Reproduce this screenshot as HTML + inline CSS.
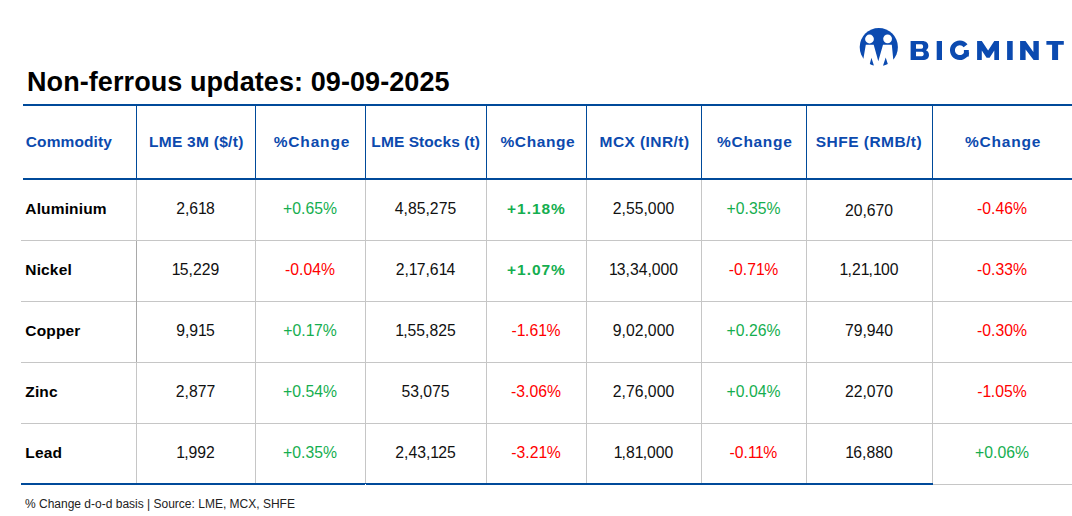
<!DOCTYPE html>
<html><head><meta charset="utf-8">
<style>
html,body{margin:0;padding:0;background:#fff;}
body{width:1072px;height:516px;position:relative;overflow:hidden;font-family:"Liberation Sans",sans-serif;}
.l{position:absolute;}
.bl{background:#004a9a;}
.gr{background:#c6c6c6;}
.t{position:absolute;white-space:nowrap;line-height:1;}
.cc{text-align:center;}
.title{left:27px;top:69.4px;font-size:27px;font-weight:bold;color:#000;letter-spacing:0.08px;}
.h{font-size:15.5px;font-weight:bold;color:#0c4aae;}
.c{font-size:15.5px;font-weight:bold;color:#000;left:25.3px;letter-spacing:0.15px;}
.n{font-size:15.75px;color:#111;}
.g{font-size:15.75px;color:#15ae4f;}
.r{font-size:15.75px;color:#ff0000;}
.o{letter-spacing:-0.85px;}
.p{letter-spacing:-0.5px;}
.b{font-weight:bold;font-size:15.5px;letter-spacing:0.95px;text-indent:0.95px;}
.foot{left:25px;top:497.6px;font-size:12px;color:#222;}
</style></head><body>
<div class="t title">Non-ferrous updates: 09-09-2025</div>

<svg class="l" style="left:0;top:0" width="1072" height="80">
  <circle cx="878.8" cy="47.1" r="19.1" fill="#0b4ab0"/>
  <path d="M865.8,44.8 L873.7,44.8 L878.3,61.3 L883,44.8 L891.8,44.8 L894.8,75 L860.6,75 Z" fill="#fff"/>
  <path d="M871.4,57.8 L869.8,63.95 A19.1,19.1 0 0 0 873.9,65.56 Z M885.7,57.6 L883.0,65.73 A19.1,19.1 0 0 0 887.8,63.95 Z" fill="#0b4ab0"/>
  <circle cx="869.5" cy="39" r="4.4" fill="#fff"/>
  <circle cx="887.6" cy="38.8" r="4.4" fill="#fff"/>
  <g fill="#0b4ab0">
    <path fill-rule="evenodd" d="M910.6,41 H922 C926.5,41 928.3,43.3 928.3,46 C928.3,48.1 927.3,49.5 925.9,50.2 C927.9,50.9 929,52.6 929,55 C929,58.1 926.8,60 922.5,60 H910.6 Z M916,44.2 H921.3 C922.6,44.2 923.1,45.2 923.1,46.5 C923.1,47.8 922.6,48.8 921.3,48.8 H916 Z M916,51.7 H921.8 C923.2,51.7 923.7,52.7 923.7,53.9 C923.7,55.1 923.2,56.2 921.8,56.2 H916 Z"/>
    <rect x="936.7" y="41" width="5.3" height="19"/>
    <path d="M965.59,45.67 A7.35,7.35 0 1 0 966.90,52.10" fill="none" stroke="#0b4ab0" stroke-width="4.9"/>
    <rect x="963.9" y="50" width="4.9" height="6.5"/>
    <path d="M977.1,41 H981.8 L988.1,50.6 L994.3,41 H999 V60 H994.3 V50.6 L989.6,57.8 H986.6 L981.8,50.6 V60 H977.1 Z"/>
    <rect x="1007.1" y="41" width="5.6" height="19"/>
    <path d="M1020.1,41 H1025.5 L1033.4,52 V41 H1038.8 V60 H1033.6 L1025.6,49.5 V60 H1020.1 Z"/>
    <path d="M1046.4,41 H1063.8 V44.8 H1058.1 V60 H1052.1 V44.8 H1046.4 Z"/>
  </g>
</svg>

<div class="t h" style="left:25.8px;top:133.5px;letter-spacing:0.1px">Commodity</div>
<div class="t h cc" style="left:136.65px;width:119px;top:133.5px;letter-spacing:0.282px;text-indent:0.282px">LME 3M ($/t)</div>
<div class="t h cc" style="left:256.5px;width:110px;top:133.5px;letter-spacing:0.833px;text-indent:0.833px">%Change</div>
<div class="t h cc" style="left:365.15px;width:121px;top:133.5px;letter-spacing:0.069px;text-indent:0.069px">LME Stocks (t)</div>
<div class="t h cc" style="left:487.6px;width:100px;top:133.5px;letter-spacing:0.6px;text-indent:0.6px">%Change</div>
<div class="t h cc" style="left:586.85px;width:115px;top:133.5px;letter-spacing:0.43px;text-indent:0.43px">MCX (INR/t)</div>
<div class="t h cc" style="left:701.95px;width:105px;top:133.5px;letter-spacing:0.683px;text-indent:0.683px">%Change</div>
<div class="t h cc" style="left:805.75px;width:126px;top:133.5px;letter-spacing:0.464px;text-indent:0.464px">SHFE (RMB/t)</div>
<div class="t h cc" style="left:932.7px;width:140px;top:133.5px;letter-spacing:0.767px;text-indent:0.767px">%Change</div>
<div class="t c" style="top:200.7px">Aluminium</div>
<div class="t n cc" style="left:136px;width:119px;top:200.7px">2,6<span class="o">1</span>8</div>
<div class="t g cc" style="left:255px;width:110px;top:200.7px">+0.65%</div>
<div class="t n cc" style="left:365px;width:121px;top:200.7px">4,85,275</div>
<div class="t g b cc" style="left:486px;width:100px;top:200.7px">+1.18%</div>
<div class="t n cc" style="left:586px;width:115px;top:200.7px">2,55,000</div>
<div class="t g cc" style="left:701px;width:105px;top:200.7px">+0.35%</div>
<div class="t n cc" style="left:806px;width:126px;top:202.5px">20,670</div>
<div class="t r cc" style="left:932px;width:140px;top:200.7px">-0.46%</div>
<div class="t c" style="top:261.7px">Nickel</div>
<div class="t n cc" style="left:136px;width:119px;top:261.7px"><span class="o">1</span>5,229</div>
<div class="t r cc" style="left:255px;width:110px;top:261.7px">-0.04%</div>
<div class="t n cc" style="left:365px;width:121px;top:261.7px">2,<span class="o">1</span>7,6<span class="o">1</span>4</div>
<div class="t g b cc" style="left:486px;width:100px;top:261.7px">+1.07%</div>
<div class="t n cc" style="left:586px;width:115px;top:261.7px"><span class="o">1</span>3,34,000</div>
<div class="t r cc" style="left:701px;width:105px;top:261.7px">-0.7<span class="p">1</span>%</div>
<div class="t n cc" style="left:806px;width:126px;top:261.7px"><span class="o">1</span>,2<span class="o">1</span>,<span class="o">1</span>00</div>
<div class="t r cc" style="left:932px;width:140px;top:261.7px">-0.33%</div>
<div class="t c" style="top:322.7px">Copper</div>
<div class="t n cc" style="left:136px;width:119px;top:322.7px">9,9<span class="o">1</span>5</div>
<div class="t g cc" style="left:255px;width:110px;top:322.7px">+0.<span class="p">1</span>7%</div>
<div class="t n cc" style="left:365px;width:121px;top:322.7px"><span class="o">1</span>,55,825</div>
<div class="t r cc" style="left:486px;width:100px;top:322.7px">-<span class="p">1</span>.6<span class="p">1</span>%</div>
<div class="t n cc" style="left:586px;width:115px;top:322.7px">9,02,000</div>
<div class="t g cc" style="left:701px;width:105px;top:322.7px">+0.26%</div>
<div class="t n cc" style="left:806px;width:126px;top:322.7px">79,940</div>
<div class="t r cc" style="left:932px;width:140px;top:322.7px">-0.30%</div>
<div class="t c" style="top:383.7px">Zinc</div>
<div class="t n cc" style="left:136px;width:119px;top:383.7px">2,877</div>
<div class="t g cc" style="left:255px;width:110px;top:383.7px">+0.54%</div>
<div class="t n cc" style="left:365px;width:121px;top:383.7px">53,075</div>
<div class="t r cc" style="left:486px;width:100px;top:383.7px">-3.06%</div>
<div class="t n cc" style="left:586px;width:115px;top:383.7px">2,76,000</div>
<div class="t g cc" style="left:701px;width:105px;top:383.7px">+0.04%</div>
<div class="t n cc" style="left:806px;width:126px;top:383.7px">22,070</div>
<div class="t r cc" style="left:932px;width:140px;top:383.7px">-<span class="p">1</span>.05%</div>
<div class="t c" style="top:444.7px">Lead</div>
<div class="t n cc" style="left:136px;width:119px;top:444.7px"><span class="o">1</span>,992</div>
<div class="t g cc" style="left:255px;width:110px;top:444.7px">+0.35%</div>
<div class="t n cc" style="left:365px;width:121px;top:444.7px">2,43,<span class="o">1</span>25</div>
<div class="t r cc" style="left:486px;width:100px;top:444.7px">-3.2<span class="p">1</span>%</div>
<div class="t n cc" style="left:586px;width:115px;top:444.7px"><span class="o">1</span>,8<span class="o">1</span>,000</div>
<div class="t r cc" style="left:701px;width:105px;top:444.7px">-0.<span class="p">1</span><span class="p">1</span>%</div>
<div class="t n cc" style="left:806px;width:126px;top:444.7px"><span class="o">1</span>6,880</div>
<div class="t g cc" style="left:932px;width:140px;top:444.7px">+0.06%</div>
<div class="l bl" style="left:23px;top:104px;width:1049px;height:2px"></div>
<div class="l bl" style="left:23px;top:178px;width:1049px;height:2px"></div>
<div class="l gr" style="left:21px;top:240px;width:1051px;height:1px"></div>
<div class="l gr" style="left:21px;top:301px;width:1051px;height:1px"></div>
<div class="l gr" style="left:21px;top:362px;width:1051px;height:1px"></div>
<div class="l gr" style="left:21px;top:423px;width:1051px;height:1px"></div>
<div class="l bl" style="left:21px;top:483px;width:912px;height:2px"></div>
<div class="l gr" style="left:933px;top:484px;width:139px;height:1px"></div>
<div class="l" style="left:365px;top:484px;width:1px;height:1px;background:#fff"></div>
<div class="l bl" style="left:136px;top:106px;width:1px;height:72px"></div>
<div class="l gr" style="left:136px;top:180px;width:1px;height:303px"></div>
<div class="l bl" style="left:255px;top:106px;width:1px;height:72px"></div>
<div class="l gr" style="left:255px;top:180px;width:1px;height:303px"></div>
<div class="l bl" style="left:365px;top:106px;width:1px;height:72px"></div>
<div class="l gr" style="left:365px;top:180px;width:1px;height:303px"></div>
<div class="l bl" style="left:486px;top:106px;width:1px;height:72px"></div>
<div class="l gr" style="left:486px;top:180px;width:1px;height:303px"></div>
<div class="l bl" style="left:586px;top:106px;width:1px;height:72px"></div>
<div class="l gr" style="left:586px;top:180px;width:1px;height:303px"></div>
<div class="l bl" style="left:701px;top:106px;width:1px;height:72px"></div>
<div class="l gr" style="left:701px;top:180px;width:1px;height:303px"></div>
<div class="l bl" style="left:806px;top:106px;width:1px;height:72px"></div>
<div class="l gr" style="left:806px;top:180px;width:1px;height:303px"></div>
<div class="l bl" style="left:932px;top:106px;width:1px;height:72px"></div>
<div class="l gr" style="left:932px;top:180px;width:1px;height:303px"></div>
<div class="l" style="left:136px;top:241px;width:1px;height:121px;background:#a9a9a9"></div>
<div class="t foot">% Change d-o-d basis | Source: LME, MCX, SHFE</div>
</body></html>
